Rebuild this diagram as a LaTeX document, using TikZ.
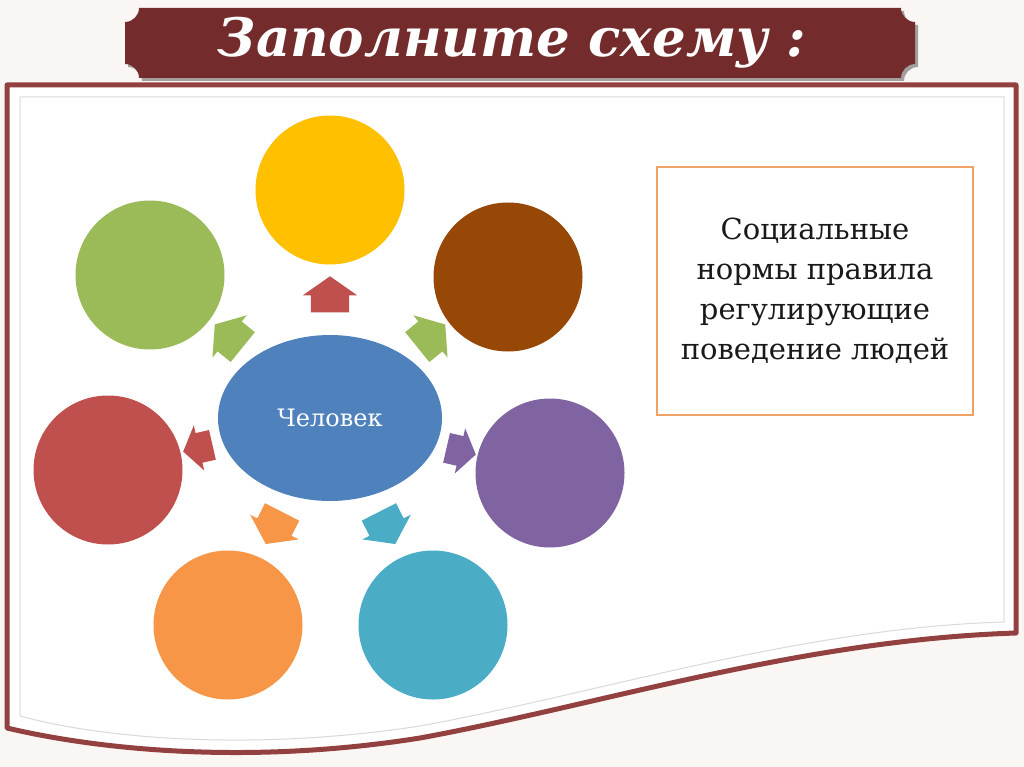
\documentclass[tikz,border=0pt]{standalone}
\usepackage{fontspec}
\setmainfont{DejaVu Serif}
\usetikzlibrary{shapes.geometric,shapes.arrows}
\definecolor{pagebg}{HTML}{FAF6F4}
\definecolor{banner}{HTML}{732B2B}
\definecolor{framered}{HTML}{934040}
\definecolor{boxorange}{HTML}{F0A264}
\definecolor{cyellow}{HTML}{FFC000}
\definecolor{cgreen}{HTML}{9BBB59}
\definecolor{cbrown}{HTML}{974706}
\definecolor{cred}{HTML}{C0504D}
\definecolor{cpurple}{HTML}{8064A2}
\definecolor{corange}{HTML}{F79646}
\definecolor{ccyan}{HTML}{4BACC6}
\definecolor{cblue}{HTML}{4F81BD}
\tikzset{
  spot/.style={circle, minimum size=149pt, inner sep=0pt},
  blockarrow/.style={single arrow, inner xsep=0pt, inner ysep=19pt, minimum height=36pt,
    single arrow head extend=8pt, single arrow tip angle=110},
  notebox/.style={rectangle, draw=boxorange, line width=2pt, minimum width=316pt,
    minimum height=248pt, align=center, text=black!90,
    font=\fontsize{29}{40}\selectfont}
}

\begin{document}
\begin{tikzpicture}[x=1pt, y=-1pt]
    \useasboundingbox (0,0) rectangle (1024,767);
    \fill[pagebg] (0,0) rectangle (1024,767);

    % frame with wavy bottom
    \path[fill=white, draw=framered, line width=5pt, line join=round]
        (7,85) -- (1016,85) -- (1016,633)
        .. controls (800,640) and (600,705) .. (420,738)
        .. controls (250,765) and (100,750) .. (7,728) -- cycle;
    \draw[black!15, line width=1pt]
        (20,97) -- (1004,97) -- (1004,622)
        .. controls (800,628) and (600,693) .. (420,726)
        .. controls (250,752) and (100,738) .. (20,716) -- cycle;

    % title banner
    \fill[banner, preaction={fill=black, opacity=.35, transform canvas={shift={(3pt,-3pt)}}}]
        (139,8) -- (901,8) .. controls (901,15.7) and (907.3,22) .. (915,22)
        -- (915,64) .. controls (907.3,64) and (901,70.3) .. (901,78)
        -- (139,78) .. controls (139,70.3) and (132.7,64) .. (125,64)
        -- (125,22) .. controls (132.7,22) and (139,15.7) .. (139,8) -- cycle;
    \node (title) [text=white, font=\fontsize{53}{58}\selectfont\bfseries\itshape]
        at (512,43) {Заполните схему :};

    % centre and spots
    \node (man) [ellipse, fill=cblue, minimum width=224pt, minimum height=166pt, inner sep=0pt,
        text=white, font=\fontsize{24}{28}\selectfont] at (330,418) {Человек};

    \node (yellowSpot) [spot, fill=cyellow] at (330,190) {};
    \node (greenSpot)  [spot, fill=cgreen]  at (150,275) {};
    \node (brownSpot)  [spot, fill=cbrown]  at (508,277) {};
    \node (redSpot)    [spot, fill=cred]    at (108,470) {};
    \node (purpleSpot) [spot, fill=cpurple] at (550,473) {};
    \node (orangeSpot) [spot, fill=corange] at (228,625) {};
    \node (cyanSpot)   [spot, fill=ccyan]   at (433,625) {};

    % arrows out of the centre
    \node (toYellow) [blockarrow, fill=cred,    rotate=90]  at (330,301) {};
    \node (toGreen)  [blockarrow, fill=cgreen,  rotate=141] at (234,340) {};
    \node (toBrown)  [blockarrow, fill=cgreen,  rotate=39]  at (426,340) {};
    \node (toRed)    [blockarrow, fill=cred,    rotate=193, minimum height=30pt, inner ysep=15pt] at (203,447) {};
    \node (toPurple) [blockarrow, fill=cpurple, rotate=-13, minimum height=30pt, inner ysep=15pt] at (456,450) {};
    \node (toOrange) [blockarrow, fill=corange, rotate=243] at (277,522) {};
    \node (toCyan)   [blockarrow, fill=ccyan,   rotate=297] at (384,522) {};

    % definition box
    \node (note) [notebox] at (815,291)
        {Социальные\\нормы правила\\регулирующие\\поведение людей};
\end{tikzpicture}
\end{document}
